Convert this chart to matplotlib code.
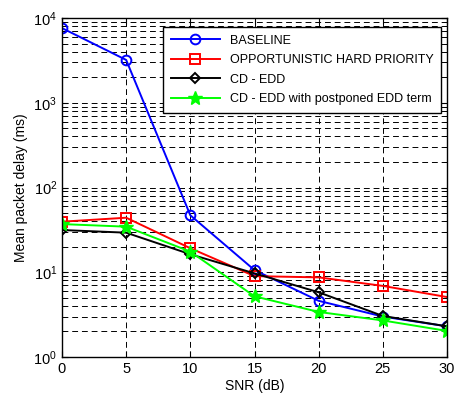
import matplotlib
matplotlib.use('Agg')
import matplotlib.pyplot as plt
from matplotlib.ticker import LogLocator, NullFormatter

plt.rcParams['font.family'] = ['Liberation Sans', 'DejaVu Sans']

# Données
snr = [0, 5, 10, 15, 20, 25, 30]
baseline = [7600, 3200, 47, 10.6, 4.6, 3.0, 2.3]
hard_priority = [39.5, 44, 19.2, 9.0, 8.7, 6.9, 5.1]
cd_edd = [31.5, 29.3, 16.3, 9.7, 5.8, 3.05, 2.3]
cd_edd_postponed = [37, 34.5, 17.5, 5.2, 3.4, 2.7, 2.03]

labels = ['BASELINE', 'OPPORTUNISTIC HARD PRIORITY', 'CD - EDD',
          'CD - EDD with postponed EDD term']

fig = plt.figure(figsize=(4.54, 4.0), dpi=100)
ax = fig.add_axes([62 / 454, 1 - 357 / 400, 385 / 454, 339 / 400])

ax.semilogy(snr, baseline, 'b-o', lw=1.4, ms=7, mfc='none', mew=1.4, label=labels[0])
ax.semilogy(snr, hard_priority, 'r-s', lw=1.4, ms=7, mfc='none', mew=1.4, label=labels[1])
ax.semilogy(snr, cd_edd, 'k-D', lw=1.4, ms=5.5, mfc='none', mew=1.4, label=labels[2])
ax.semilogy(snr, cd_edd_postponed, '-*', color='#00ff00', lw=1.4, ms=10, mew=1.0,
            label=labels[3])

ax.set_xlim(0, 30)
ax.set_ylim(1, 1e4)
ax.set_xticks(snr)
ax.yaxis.set_major_locator(LogLocator(base=10, numticks=10))
ax.yaxis.set_minor_locator(LogLocator(base=10, subs=range(2, 10), numticks=10))
ax.yaxis.set_minor_formatter(NullFormatter())

ax.grid(True, which='major', axis='x', color='black', linestyle=(0, (6, 4)), lw=0.7)
ax.grid(True, which='both', axis='y', color='black', linestyle=(0, (6, 4)), lw=0.7)
ax.tick_params(which='both', direction='in', top=True, right=True, labelsize=10.5)
ax.tick_params(which='major', length=4)
ax.tick_params(which='minor', length=2)
for s in ax.spines.values():
    s.set_linewidth(1.0)

ax.set_xlabel('SNR (dB)', fontsize=10, labelpad=2)
ax.set_ylabel('Mean packet delay (ms)', fontsize=10)

leg = ax.legend(loc='upper right', bbox_to_anchor=(0.984, 0.973), borderaxespad=0,
                fontsize=9, fancybox=False, framealpha=1, edgecolor='black',
                handlelength=3.9, handletextpad=0.8, borderpad=0.6, labelspacing=0.6)
leg.get_frame().set_linewidth(1.0)

plt.savefig('out.png', dpi=100)
